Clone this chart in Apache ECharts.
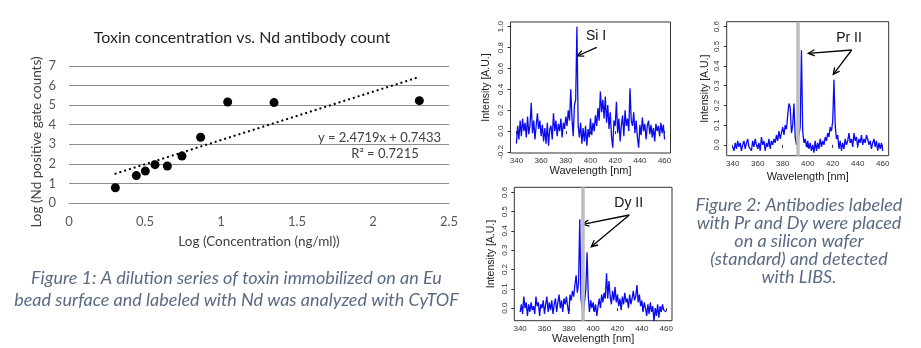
<!DOCTYPE html>
<html><head><meta charset="utf-8">
<script src="https://cdn.jsdelivr.net/npm/echarts@6/dist/echarts.min.js"></script>
<style>html,body{margin:0;padding:0;background:#fff}#c{width:921px;height:348px}</style>
</head><body><div id="c"></div>
<script>
// ---------- Figure 1 data ----------
const concLog = [0.305, 0.443, 0.502, 0.566, 0.647, 0.743, 0.866, 1.044, 1.349, 2.305];
const countLog = [0.78, 1.40, 1.63, 1.96, 1.89, 2.40, 3.36, 5.16, 5.13, 5.23];
const trendSlope = 2.4719, trendIntercept = 0.7433, trendXRange = [0.3, 2.3];
const fig1XTicks = [0, 0.5, 1, 1.5, 2, 2.5];
const fig1YTicks = [0, 1, 2, 3, 4, 5, 6, 7];

// ---------- Figure 2 spectra (1 nm sampling, 340..460 nm) ----------
const wlStart = 340, wlStep = 1;
const siSpectrum = [-0.12,0.05,-0.08,0.10,-0.05,0.12,0.0,0.08,-0.06,0.14,-0.03,0.06,0.27,-0.02,0.10,-0.08,0.05,0.17,0.02,0.10,
 -0.05,0.06,-0.10,0.03,-0.12,0.08,-0.14,0.02,0.05,-0.08,0.17,0.0,0.10,-0.05,0.07,0.0,0.12,-0.06,0.08,0.02,
 0.14,0.05,0.20,0.10,0.40,0.12,-0.05,0.25,0.30,1.0,0.05,-0.06,0.08,-0.12,0.03,-0.10,0.05,-0.14,0.02,-0.06,
 0.12,-0.04,0.08,0.0,0.15,0.05,0.22,0.10,0.38,0.18,0.30,0.12,0.33,0.08,0.25,0.02,0.18,-0.05,-0.16,0.10,
 0.05,0.28,-0.02,0.12,-0.10,0.06,0.15,-0.05,0.20,0.05,0.12,0.0,0.41,0.10,0.05,0.18,-0.02,0.10,-0.06,-0.16,
 0.06,-0.04,0.13,0.0,0.07,-0.08,0.05,0.10,-0.03,0.06,-0.06,0.03,-0.10,0.07,0.0,0.05,-0.05,0.08,-0.02,0.06,-0.08];
const prSpectrum = [-0.01,-0.03,0.01,-0.02,0.02,-0.01,0.01,-0.03,0.00,0.02,-0.02,0.01,0.03,-0.01,0.00,-0.03,0.02,-0.01,0.03,0.00,
 -0.02,0.01,-0.03,0.04,0.00,0.02,-0.03,0.01,-0.01,0.03,-0.02,0.02,0.00,0.03,0.01,0.05,0.02,0.07,0.03,0.06,
 0.09,0.05,0.10,0.08,0.15,0.21,0.19,0.06,0.10,0.21,0.04,0.00,0.02,0.05,0.09,0.48,0.07,0.01,0.03,-0.01,
 0.02,-0.02,0.01,-0.03,0.00,-0.04,0.02,-0.03,0.01,-0.02,0.03,-0.01,0.02,0.00,0.04,0.02,0.06,0.04,0.09,0.07,
 0.12,0.33,0.10,0.03,0.05,-0.02,0.02,-0.03,0.01,-0.02,0.03,0.00,0.02,0.06,0.01,0.03,-0.01,0.06,0.02,0.04,
 -0.01,0.03,0.01,0.05,0.00,0.03,0.01,0.05,0.03,0.00,0.02,-0.02,0.01,0.03,-0.01,0.02,-0.03,0.01,-0.02,0.01,-0.03];
const dySpectrum = [-0.02,0.02,-0.03,0.06,0.00,0.03,-0.04,0.02,-0.02,0.03,-0.01,0.01,-0.03,0.06,0.01,0.03,-0.04,0.02,0.00,0.04,
 -0.03,0.02,0.06,-0.02,0.03,-0.01,0.04,-0.03,0.02,0.05,-0.02,0.03,0.07,0.00,0.04,-0.02,0.05,0.02,0.06,0.01,
 -0.03,0.07,0.04,0.09,0.06,0.12,0.17,0.08,0.13,0.46,0.05,0.00,-0.03,0.04,0.10,0.29,0.06,-0.02,0.04,0.00,
 0.03,-0.02,0.02,-0.04,0.01,0.05,0.00,0.07,0.03,0.08,0.05,0.18,0.05,0.14,0.06,0.02,0.09,0.04,0.11,0.03,
 0.07,0.01,0.05,-0.01,0.06,0.02,0.08,0.03,0.05,0.00,0.07,0.02,0.05,0.09,0.04,0.06,0.12,0.03,0.07,0.01,
 0.04,-0.02,0.03,0.00,-0.04,0.02,-0.03,0.03,-0.02,0.01,-0.07,0.00,-0.04,0.02,-0.05,0.01,-0.02,0.02,-0.01,0.00,-0.02];
const wlTicks = [340, 360, 380, 400, 420, 440, 460];
const siYTicks = [-0.2, 0, 0.2, 0.4, 0.6, 0.8, 1.0];
const lnYTicks = [0, 0.1, 0.2, 0.3, 0.4, 0.5, 0.6];
const grayLinePr = 391.7, grayLineDy = 391.5;

const toPairs = arr => arr.map((v, i) => [wlStart + i * wlStep, v]);
const trendData = trendXRange.map(x => [x, trendSlope * x + trendIntercept]);

const chart = echarts.init(document.getElementById('c'), null, {renderer: 'canvas'});
const CAL = 'Lato, "Open Sans", sans-serif';
const ARI = '"Liberation Sans", Arial, sans-serif';
const gridGray = '#8c8c8c';
const capColor = '#5b6a84';

function specX(idx, gap) {
  return {
    type: 'value', gridIndex: idx, min: 335.2, max: 464.8,
    axisLine: {show: false}, splitLine: {show: false},
    axisTick: {show: true, length: 3, customValues: wlTicks, lineStyle: {color: '#333'}},
    axisLabel: {customValues: wlTicks, fontSize: 8, color: '#333', margin: 4, fontFamily: ARI},
    name: 'Wavelength [nm]', nameLocation: 'middle', nameGap: gap,
    nameTextStyle: {fontSize: 11, color: '#222', fontFamily: ARI}
  };
}
function specY(idx, min, max, ticks, gap) {
  return {
    type: 'value', gridIndex: idx, min: min, max: max,
    axisLine: {show: false}, splitLine: {show: false},
    axisTick: {show: true, length: 3, customValues: ticks, lineStyle: {color: '#333'}},
    axisLabel: {customValues: ticks, fontSize: 8, color: '#333', margin: 6, rotate: 90, fontFamily: ARI,
      formatter: v => v.toFixed(1)},
    name: 'Intensity [A.U.]', nameLocation: 'middle', nameGap: gap,
    nameTextStyle: {fontSize: 10.5, color: '#222', fontFamily: ARI}
  };
}

function arrow(x1, y1, x2, y2) {
  const a = Math.atan2(y2 - y1, x2 - x1), L = 7, w = 0.45;
  const p1 = [x2 - L * Math.cos(a - w), y2 - L * Math.sin(a - w)];
  const p2 = [x2 - L * Math.cos(a + w), y2 - L * Math.sin(a + w)];
  return [
    {type: 'line', shape: {x1, y1, x2, y2}, style: {stroke: '#000', lineWidth: 1.3}},
    {type: 'polyline', shape: {points: [p1, [x2, y2], p2]}, style: {stroke: '#000', lineWidth: 1.3, fill: null}}
  ];
}
function txt(x, y, text, font, fill, align) {
  return {type: 'text', x, y, style: {text, font, fill, textAlign: align || 'center', textVerticalAlign: 'middle'}};
}

const blue = {color: '#0a0af2', width: 1.3};

const option = {
  animation: false,
  grid: [
    {left: 69, right: 472, top: 66, bottom: 145},
    {left: 510.5, right: 250.5, top: 22, bottom: 195, show: true, borderColor: '#333', borderWidth: 1},
    {left: 726.7, right: 32.3, top: 21.7, bottom: 192.3, show: true, borderColor: '#333', borderWidth: 1},
    {left: 514.3, right: 249, top: 187.3, bottom: 27.3, show: true, borderColor: '#333', borderWidth: 1}
  ],
  xAxis: [
    {type: 'value', gridIndex: 0, min: 0, max: 2.5, interval: 0.5,
     axisLine: {show: true, lineStyle: {color: gridGray}}, axisTick: {show: false}, splitLine: {show: false},
     axisLabel: {fontSize: 13, color: '#595959', margin: 12, fontFamily: CAL},
     name: 'Log (Concentration (ng/ml))', nameLocation: 'middle', nameGap: 32,
     nameTextStyle: {fontSize: 13.5, color: '#404040', fontFamily: CAL}},
    specX(1, 6),
    specX(2, 16),
    specX(3, 10)
  ],
  yAxis: [
    {type: 'value', gridIndex: 0, min: 0, max: 7, interval: 1,
     axisLine: {show: false}, axisTick: {show: false},
     splitLine: {show: true, lineStyle: {color: gridGray, width: 1}},
     axisLabel: {fontSize: 13, color: '#595959', margin: 13, fontFamily: CAL}},
    specY(1, -0.21, 1.045, siYTicks, 19),
    specY(2, -0.055, 0.625, lnYTicks, 16),
    specY(3, -0.065, 0.626, lnYTicks, 18)
  ],
  series: [
    {type: 'line', xAxisIndex: 0, yAxisIndex: 0, data: trendData, showSymbol: false, symbol: 'none',
     lineStyle: {color: '#000', width: 2, type: [2, 3]}, z: 2},
    {type: 'scatter', xAxisIndex: 0, yAxisIndex: 0, data: concLog.map((x, i) => [x, countLog[i]]),
     symbolSize: 9, itemStyle: {color: '#000', opacity: 1}, z: 3},
    {type: 'line', xAxisIndex: 1, yAxisIndex: 1, data: toPairs(siSpectrum), symbol: 'none', lineStyle: blue},
    {type: 'line', xAxisIndex: 2, yAxisIndex: 2, data: toPairs(prSpectrum), symbol: 'none', lineStyle: blue,
     markLine: {silent: true, symbol: 'none', label: {show: false}, lineStyle: {color: '#bdbdbd', width: 3.5, type: 'solid'},
       data: [{xAxis: grayLinePr}]}},
    {type: 'line', xAxisIndex: 3, yAxisIndex: 3, data: toPairs(dySpectrum), symbol: 'none', lineStyle: blue,
     markLine: {silent: true, symbol: 'none', label: {show: false}, lineStyle: {color: '#bdbdbd', width: 3.5, type: 'solid'},
       data: [{xAxis: grayLineDy}]}}
  ],
  graphic: [
    txt(242, 38, 'Toxin concentration vs. Nd antibody count', '16px ' + CAL, '#262626'),
    {type: 'text', x: 37, y: 142, rotation: Math.PI / 2,
     style: {text: 'Log (Nd positive gate counts)', font: '13.5px ' + CAL, fill: '#404040', textAlign: 'center', textVerticalAlign: 'middle'}},
    txt(441, 138, 'y = 2.4719x + 0.7433', '13px ' + CAL, '#404040', 'right'),
    txt(385, 154, 'R² = 0.7215', '13px ' + CAL, '#404040'),
    {type: 'text', x: 236.5, y: 289, style: {text: 'Figure 1: A dilution series of toxin immobilized on an Eu\nbead surface and labeled with Nd was analyzed with CyTOF',
      font: 'italic 18px ' + CAL, fill: capColor, textAlign: 'center', textVerticalAlign: 'middle', lineHeight: 21.7}},
    {type: 'text', x: 799, y: 241, style: {text: 'Figure 2: Antibodies labeled\nwith Pr and Dy were placed\non a silicon wafer\n(standard) and detected\nwith LIBS.',
      font: 'italic 18px ' + CAL, fill: capColor, textAlign: 'center', textVerticalAlign: 'middle', lineHeight: 18}},
    txt(596, 36, 'Si I', '14px ' + ARI, '#111'),
    txt(849, 38, 'Pr II', '14px ' + ARI, '#111'),
    txt(628.7, 203, 'Dy II', '14px ' + ARI, '#111'),
    ...arrow(596.7, 47.3, 577.3, 56),
    ...arrow(851.7, 50, 808.3, 53.3),
    ...arrow(851.7, 50, 833.3, 74.3),
    ...arrow(629.3, 215, 582.7, 224.3),
    ...arrow(629.3, 215, 591.3, 246.7)
  ]
};
chart.setOption(option);
</script></body></html>
